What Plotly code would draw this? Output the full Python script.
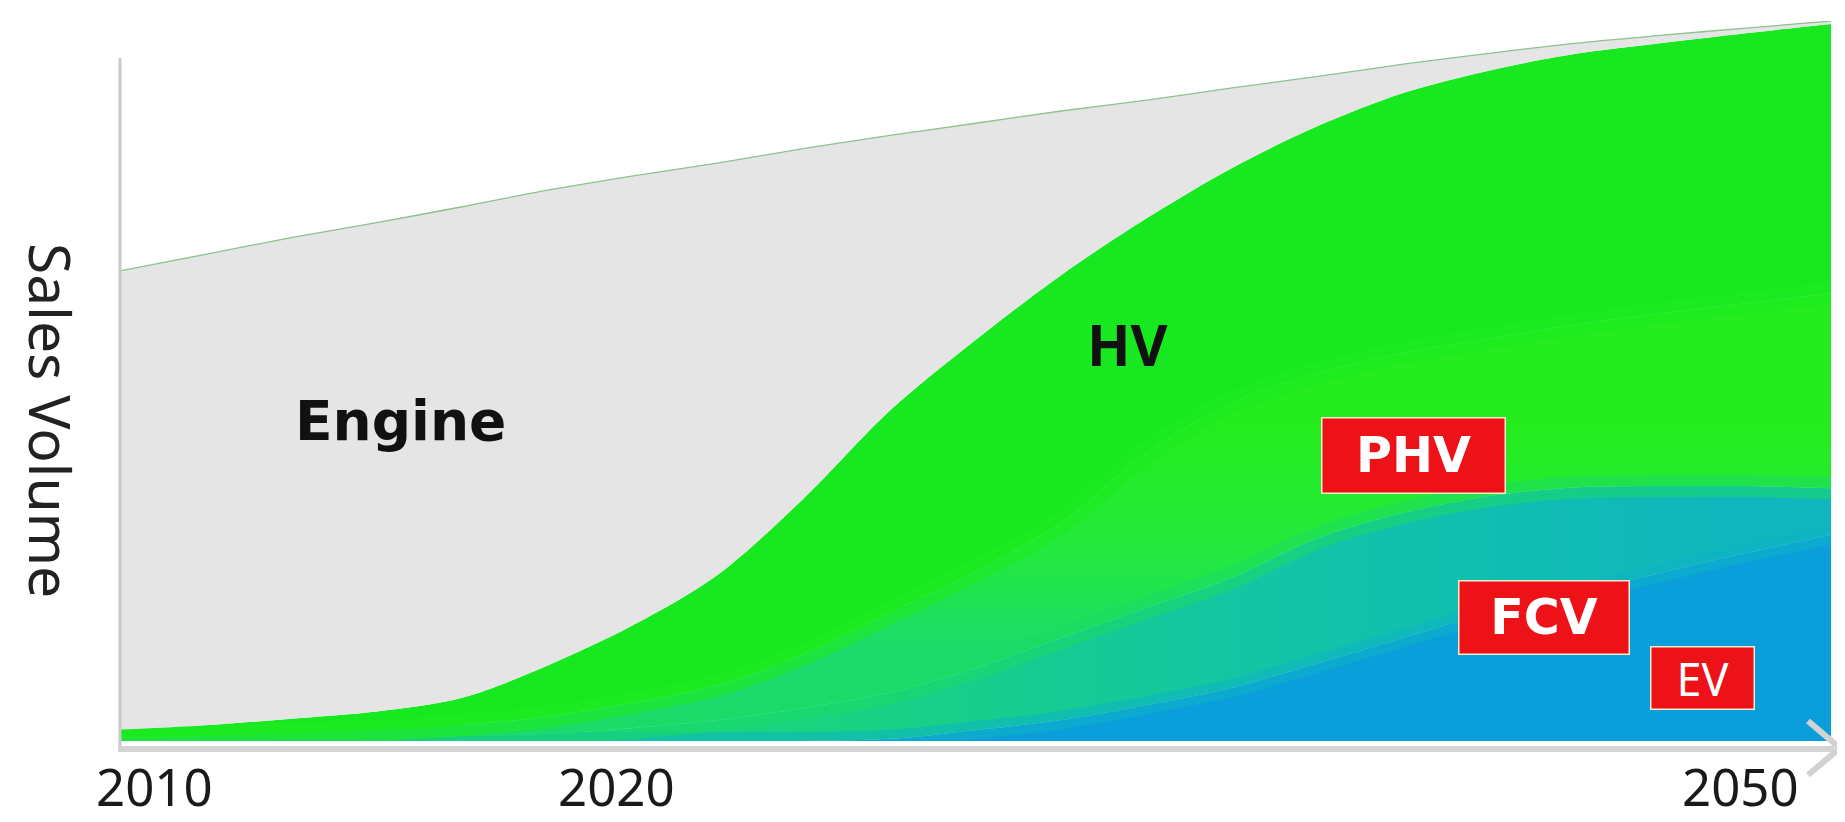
import plotly.graph_objects as go

# ---------------- data (schematic sales-volume index, 2050 total = 100) ----------------
years = [2010, 2012, 2014, 2016, 2018, 2020, 2022, 2024, 2026, 2028, 2030,
         2032, 2034, 2036, 2038, 2040, 2042, 2044, 2046, 2048, 2050]

ev_volume = [0, 0, 0, 0, 0, 0, 0, 0, 0, 0.3, 1.5,
             2.9, 5.0, 7.4, 10.8, 14.3, 17.8, 20.6, 23.3, 26.1, 28.6]
fcv_volume = [0.1, 0.1, 0.3, 0.4, 0.7, 1.0, 1.8, 2.9, 4.6, 6.4, 8.6,
              11.4, 13.5, 15.3, 17.4, 17.4, 16.2, 14.6, 12.1, 9.3, 6.5]
phv_volume = [0.3, 0.6, 0.7, 1.1, 1.5, 2.4, 3.5, 4.9, 7.5, 11.1, 13.5,
              16.0, 21.5, 24.3, 22.9, 22.2, 21.9, 22.6, 24.0, 25.4, 27.1]
hv_volume = [1.2, 1.5, 2.1, 2.6, 3.8, 7.1, 10.8, 15.4, 21.7, 28.1, 32.1,
             34.4, 32.6, 32.6, 34.3, 36.1, 37.2, 37.6, 37.5, 37.5, 37.4]
engine_volume = [63.7, 65.4, 66.8, 67.9, 68.2, 66.0, 62.4, 57.1, 48.5, 38.2, 30.1,
                 22.8, 16.4, 11.1, 6.9, 4.0, 2.4, 1.5, 1.1, 0.7, 0.4]

tick_years = [2010, 2020, 2050]
tick_labels = ["2010", "2020", "2050"]
axis_title = "Sales Volume"

FONT = "Noto Sans"
WIDE = "DejaVu Sans"

fig = go.Figure()

common = dict(x=years, mode="lines", stackgroup="one", hoverinfo="skip")

# EV (bottom, blue) - wide translucent edge softens the blue/teal transition
fig.add_trace(go.Scatter(
    y=ev_volume, name="EV", fillcolor="#0A9FDB",
    line=dict(width=18, color="rgba(14,178,196,0.55)", shape="spline", smoothing=0.9),
    **common))
# FCV (teal band)
fig.add_trace(go.Scatter(
    y=fcv_volume, name="FCV",
    fillgradient=dict(type="horizontal", start=2026, stop=2048,
                      colorscale=[[0, "#19D47E"], [0.5, "#13C4A6"], [1, "#0FB6BE"]]),
    line=dict(width=22, color="rgba(28,218,100,0.55)", shape="spline", smoothing=0.9),
    **common))
# PHV (yellow-green band)
fig.add_trace(go.Scatter(
    y=phv_volume, name="PHV",
    fillgradient=dict(type="vertical", start=12, stop=44,
                      colorscale=[[0, "#1CDA6C"], [0.45, "#24E93E"], [1, "#25ED1D"]]),
    line=dict(width=22, color="rgba(29,235,31,0.6)", shape="spline", smoothing=0.9),
    **common))
# HV
fig.add_trace(go.Scatter(y=hv_volume, name="HV", fillcolor="#17E81F",
                         line=dict(width=0, shape="spline", smoothing=0.9), **common))
# Engine
fig.add_trace(go.Scatter(
    y=engine_volume, name="Engine", fillcolor="#E5E5E5",
    line=dict(width=1.3, color="#8CC28C", shape="spline", smoothing=0.9),
    **common))

# ---------------- decorations: axis lines and arrow ----------------
def px_x(p):
    return (p - 112) / 1711.0


def px_y(p):
    return (733 - p) / 720.0


shapes = [
    dict(type="line", xref="paper", yref="paper", x0=0, x1=0,
         y0=px_y(744), y1=px_y(50), line=dict(color="#C9C9C9", width=3)),
    dict(type="line", xref="paper", yref="paper", x0=px_x(110), x1=px_x(1826),
         y0=px_y(741), y1=px_y(741), line=dict(color="#D4D4D4", width=6)),
    dict(type="path", xref="paper", yref="paper",
         path=f"M {px_x(1800)},{px_y(713)} L {px_x(1832)},{px_y(740)} L {px_x(1800)},{px_y(767)}",
         line=dict(color="#D2D2D2", width=6)),
]

annotations = []
# tick labels
tick_style = [dict(xanchor="left", xshift=-26), dict(xanchor="left", xshift=8),
              dict(xanchor="right", xshift=-30)]
for yr, lab, st in zip(tick_years, tick_labels, tick_style):
    annotations.append(dict(x=yr, xref="x", y=px_y(778), yref="paper", text=lab,
                            showarrow=False, yanchor="middle",
                            font=dict(family=FONT, size=51, color="#1A1A1A"), **st))

# y-axis title
annotations.append(dict(x=px_x(2), xref="paper", y=px_y(412), yref="paper",
                        text=axis_title, textangle=90, showarrow=False,
                        xanchor="left", yanchor="middle",
                        font=dict(family=FONT, size=57, color="#222222")))

# series labels
annotations.append(dict(x=2016.55, y=44.4, text="<b>Engine</b>", showarrow=False,
                        font=dict(family=WIDE, size=55, color="#111111")))
annotations.append(dict(x=2033.57, y=55.1, text="<b>HV</b>", showarrow=False,
                        font=dict(family=FONT, size=57, color="#111111")))

box_common = dict(showarrow=False, bgcolor="#EC1218", bordercolor="#F4EACB",
                  borderwidth=1.5, borderpad=1, align="center", valign="middle")
annotations.append(dict(x=2040.23, y=39.7, text="<b>PHV</b>", width=180, height=72,
                        font=dict(family=WIDE, size=49, color="white"), **box_common))
annotations.append(dict(x=2043.3, y=17.2, text="<b>FCV</b>", width=167, height=70,
                        font=dict(family=WIDE, size=49, color="white"), **box_common))
annotations.append(dict(x=2047.0, y=8.8, text="EV", width=100, height=59,
                        font=dict(family=FONT, size=45, color="white"), **box_common))

fig.update_layout(
    width=1845, height=822, autosize=False,
    margin=dict(l=112, r=22, t=13, b=89, pad=0),
    paper_bgcolor="white", plot_bgcolor="white",
    showlegend=False,
    xaxis=dict(range=[2010, 2050], visible=False, fixedrange=True),
    yaxis=dict(range=[0, 100], visible=False, fixedrange=True),
    shapes=shapes, annotations=annotations,
)

fig.write_html("out.html", config={"displayModeBar": False})
